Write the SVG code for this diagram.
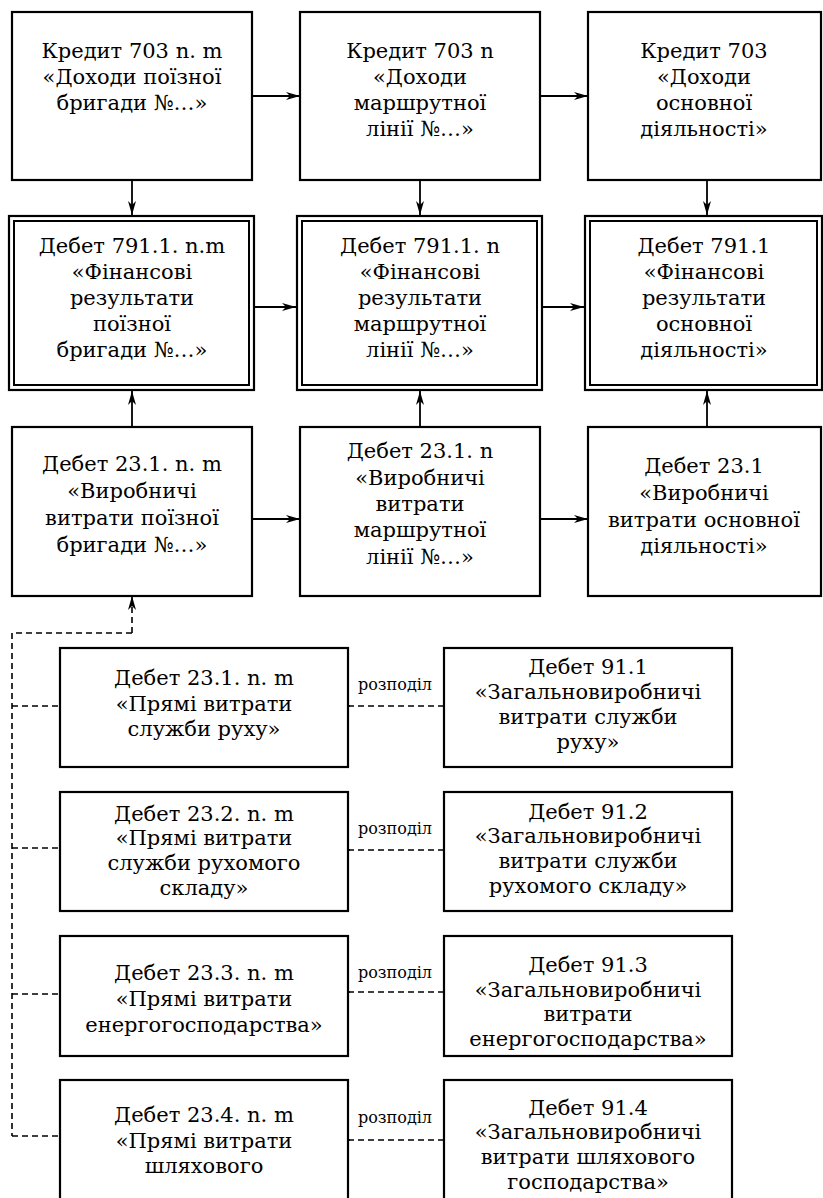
<svg xmlns="http://www.w3.org/2000/svg" width="823" height="1198" viewBox="0 0 823 1198">
<style>
.box{fill:#fff;stroke:#000;stroke-width:2.2}
.in{fill:none;stroke:#000;stroke-width:2}
.t{font-family:"DejaVu Serif","Liberation Serif",serif;font-size:21px;fill:#000;text-anchor:middle}
.s{font-family:"DejaVu Serif","Liberation Serif",serif;font-size:16px;fill:#000;text-anchor:middle}
.ln{fill:none;stroke:#000;stroke-width:1.8}
.dl{fill:none;stroke:#000;stroke-width:1.6;stroke-dasharray:6,4}
</style>
<defs>
<marker id="ah" markerWidth="15" markerHeight="10" refX="14" refY="5" orient="auto" markerUnits="userSpaceOnUse">
<path d="M0,1 L14,5 L0,9 L4,5 z" fill="#000"/>
</marker>
<marker id="oh" markerWidth="14" markerHeight="10" refX="1" refY="5" orient="auto" markerUnits="userSpaceOnUse">
<path d="M12,1.5 L1,5 L12,8.5" fill="none" stroke="#000" stroke-width="1.6"/>
</marker>
</defs>

<g id="connectors">
<line class="ln" x1="252" y1="96" x2="300" y2="96" marker-end="url(#ah)"/>
<line class="ln" x1="540" y1="96" x2="588" y2="96" marker-end="url(#ah)"/>
<line class="ln" x1="132" y1="180" x2="132" y2="215" marker-end="url(#ah)"/>
<line class="ln" x1="420" y1="180" x2="420" y2="215" marker-end="url(#ah)"/>
<line class="ln" x1="707" y1="180" x2="707" y2="215" marker-end="url(#ah)"/>
<line class="ln" x1="255" y1="307" x2="296" y2="307" marker-end="url(#ah)"/>
<line class="ln" x1="543" y1="307" x2="584" y2="307" marker-end="url(#ah)"/>
<line class="ln" x1="132" y1="427" x2="132" y2="391" marker-end="url(#ah)"/>
<line class="ln" x1="420" y1="427" x2="420" y2="391" marker-end="url(#ah)"/>
<line class="ln" x1="707" y1="427" x2="707" y2="391" marker-end="url(#ah)"/>
<line class="ln" x1="252" y1="519" x2="300" y2="519" marker-end="url(#ah)"/>
<line class="ln" x1="540" y1="519" x2="588" y2="519" marker-end="url(#ah)"/>
<line class="dl" x1="132" y1="633" x2="132" y2="596" marker-end="url(#ah)"/>
<path class="dl" d="M132,633 H12 V1136"/>
<line class="dl" x1="12" y1="706" x2="60" y2="706"/>
<line class="dl" x1="12" y1="848" x2="60" y2="848"/>
<line class="dl" x1="12" y1="994" x2="60" y2="994"/>
<line class="dl" x1="12" y1="1136" x2="60" y2="1136"/>
<line class="dl" x1="444" y1="706" x2="349" y2="706" marker-end="url(#oh)"/>
<line class="dl" x1="444" y1="850" x2="349" y2="850" marker-end="url(#oh)"/>
<line class="dl" x1="444" y1="992" x2="349" y2="992" marker-end="url(#oh)"/>
<line class="dl" x1="444" y1="1140" x2="349" y2="1140" marker-end="url(#oh)"/>
<text class="s" x="395" y="690">розподіл</text>
<text class="s" x="395" y="834">розподіл</text>
<text class="s" x="395" y="978">розподіл</text>
<text class="s" x="395" y="1123">розподіл</text>
</g>

<g id="n1">
<rect class="box" x="12" y="12" width="240" height="168"/>
<text class="t"><tspan x="132" y="58">Кредит 703 n. m</tspan><tspan x="132" y="84">«Доходи поїзної</tspan><tspan x="132" y="110">бригади №…»</tspan></text>
</g>
<g id="n2">
<rect class="box" x="300" y="12" width="240" height="168"/>
<text class="t"><tspan x="420" y="58">Кредит 703 n</tspan><tspan x="420" y="84">«Доходи</tspan><tspan x="420" y="110">маршрутної</tspan><tspan x="420" y="136">лінії №…»</tspan></text>
</g>
<g id="n3">
<rect class="box" x="588" y="12" width="233" height="168"/>
<text class="t"><tspan x="704" y="58">Кредит 703</tspan><tspan x="704" y="84">«Доходи</tspan><tspan x="704" y="110">основної</tspan><tspan x="704" y="136">діяльності»</tspan></text>
</g>

<g id="n4">
<rect class="box" x="9" y="216" width="245" height="174" stroke-width="2.5"/>
<rect class="in" x="14" y="221" width="235" height="164"/>
<text class="t"><tspan x="132" y="253">Дебет 791.1. n.m</tspan><tspan x="132" y="279">«Фінансові</tspan><tspan x="132" y="305">результати</tspan><tspan x="132" y="331">поїзної</tspan><tspan x="132" y="357">бригади №…»</tspan></text>
</g>
<g id="n5">
<rect class="box" x="297" y="216" width="245" height="174" stroke-width="2.5"/>
<rect class="in" x="302" y="221" width="235" height="164"/>
<text class="t"><tspan x="420" y="253">Дебет 791.1. n</tspan><tspan x="420" y="279">«Фінансові</tspan><tspan x="420" y="305">результати</tspan><tspan x="420" y="331">маршрутної</tspan><tspan x="420" y="357">лінії №…»</tspan></text>
</g>
<g id="n6">
<rect class="box" x="585" y="216" width="237" height="174" stroke-width="2.5"/>
<rect class="in" x="590" y="221" width="227" height="164"/>
<text class="t"><tspan x="704" y="253">Дебет 791.1</tspan><tspan x="704" y="279">«Фінансові</tspan><tspan x="704" y="305">результати</tspan><tspan x="704" y="331">основної</tspan><tspan x="704" y="357">діяльності»</tspan></text>
</g>

<g id="n7">
<rect class="box" x="12" y="427" width="240" height="169"/>
<text class="t"><tspan x="132" y="471">Дебет 23.1. n. m</tspan><tspan x="132" y="498">«Виробничі</tspan><tspan x="132" y="525">витрати поїзної</tspan><tspan x="132" y="552">бригади №…»</tspan></text>
</g>
<g id="n8">
<rect class="box" x="300" y="427" width="240" height="169"/>
<text class="t"><tspan x="420" y="458">Дебет 23.1. n</tspan><tspan x="420" y="485">«Виробничі</tspan><tspan x="420" y="511">витрати</tspan><tspan x="420" y="537">маршрутної</tspan><tspan x="420" y="564">лінії №…»</tspan></text>
</g>
<g id="n9">
<rect class="box" x="588" y="427" width="233" height="169"/>
<text class="t"><tspan x="704" y="473">Дебет 23.1</tspan><tspan x="704" y="500">«Виробничі</tspan><tspan x="704" y="527">витрати основної</tspan><tspan x="704" y="553">діяльності»</tspan></text>
</g>

<g id="n10">
<rect class="box" x="60" y="648" width="288" height="119"/>
<text class="t"><tspan x="204" y="685">Дебет 23.1. n. m</tspan><tspan x="204" y="711">«Прямі витрати</tspan><tspan x="204" y="736">служби руху»</tspan></text>
</g>
<g id="n11">
<rect class="box" x="444" y="648" width="288" height="119"/>
<text class="t"><tspan x="588" y="674">Дебет 91.1</tspan><tspan x="588" y="699">«Загальновиробничі</tspan><tspan x="588" y="724">витрати служби</tspan><tspan x="588" y="749">руху»</tspan></text>
</g>
<g id="n12">
<rect class="box" x="60" y="792" width="288" height="119"/>
<text class="t"><tspan x="204" y="821">Дебет 23.2. n. m</tspan><tspan x="204" y="845">«Прямі витрати</tspan><tspan x="204" y="870">служби рухомого</tspan><tspan x="204" y="895">складу»</tspan></text>
</g>
<g id="n13">
<rect class="box" x="444" y="792" width="288" height="119"/>
<text class="t"><tspan x="588" y="819">Дебет 91.2</tspan><tspan x="588" y="843">«Загальновиробничі</tspan><tspan x="588" y="868">витрати служби</tspan><tspan x="588" y="893">рухомого складу»</tspan></text>
</g>
<g id="n14">
<rect class="box" x="60" y="936" width="288" height="120"/>
<text class="t"><tspan x="204" y="980">Дебет 23.3. n. m</tspan><tspan x="204" y="1006">«Прямі витрати</tspan><tspan x="204" y="1032">енергогосподарства»</tspan></text>
</g>
<g id="n15">
<rect class="box" x="444" y="936" width="288" height="120"/>
<text class="t"><tspan x="588" y="972">Дебет 91.3</tspan><tspan x="588" y="997">«Загальновиробничі</tspan><tspan x="588" y="1021">витрати</tspan><tspan x="588" y="1046">енергогосподарства»</tspan></text>
</g>
<g id="n16">
<rect class="box" x="60" y="1080" width="288" height="130"/>
<text class="t"><tspan x="204" y="1122">Дебет 23.4. n. m</tspan><tspan x="204" y="1148">«Прямі витрати</tspan><tspan x="204" y="1173">шляхового</tspan></text>
</g>
<g id="n17">
<rect class="box" x="444" y="1080" width="288" height="130"/>
<text class="t"><tspan x="588" y="1115">Дебет 91.4</tspan><tspan x="588" y="1139">«Загальновиробничі</tspan><tspan x="588" y="1164">витрати шляхового</tspan><tspan x="588" y="1189">господарства»</tspan></text>
</g>
</svg>
